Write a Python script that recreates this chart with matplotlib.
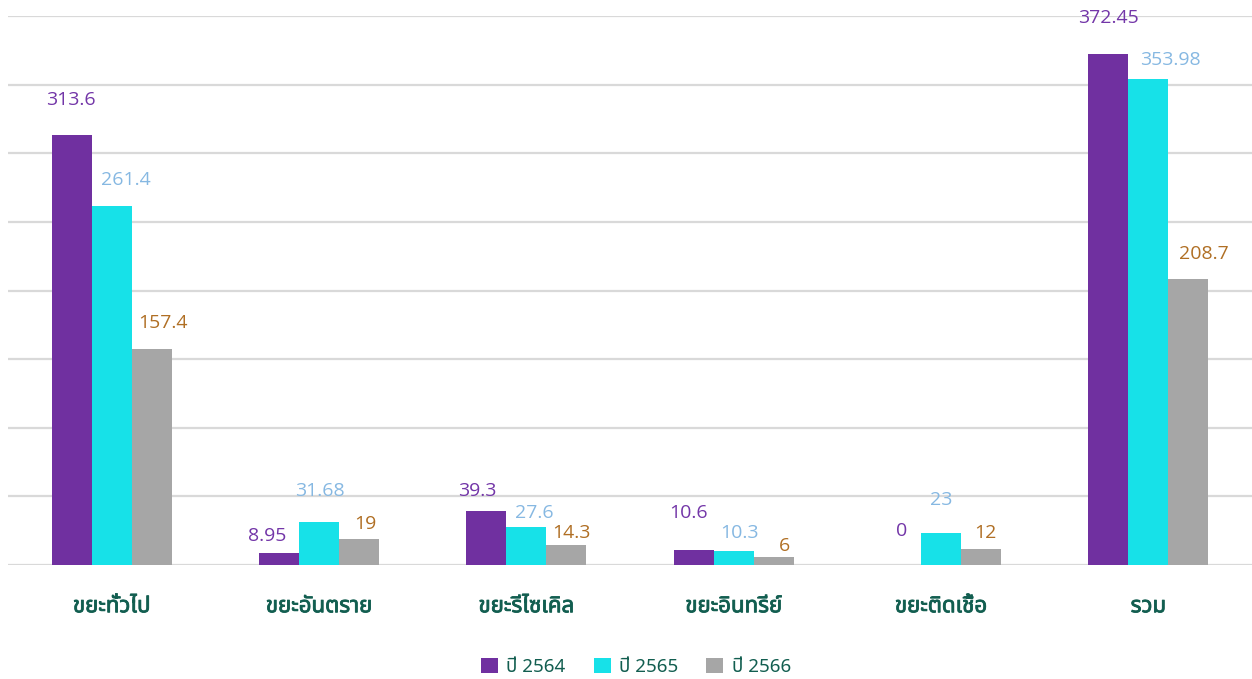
import numpy as np
import matplotlib
matplotlib.use("Agg")
import matplotlib.pyplot as plt
import matplotlib.patheffects as pe
from matplotlib import font_manager, ft2font
from matplotlib.patches import Patch

categories = ["ขยะทั่วไป", "ขยะอันตราย", "ขยะรีไซเคิล", "ขยะอินทรีย์", "ขยะติดเชื้อ", "รวม"]
series_names = ["ปี 2564", "ปี 2565", "ปี 2566"]
y2564 = [313.6, 8.95, 39.3, 10.6, 0, 372.45]
y2565 = [261.4, 31.68, 27.6, 10.3, 23, 353.98]
y2566 = [157.4, 19, 14.3, 6, 12, 208.7]
yticks = np.arange(0, 401, 50)

bar_colors = ["#7030A0", "#17E1E8", "#A6A6A6"]
label_colors = ["#7336a8", "#86b8e2", "#b06f24"]
text_green = "#125e50"

# label offsets (pixels) relative to bar top centre, per series / per group
label_dx = [[-1, -12, -9, -5, 1, 0],
            [14, 1, 8, 6, 0, 22],
            [11, 6, 5, 11, 4, 16]]
label_dy = [[35, 17, 20, 37, 34, 36],
            [26, 31, 14, 18, 33, 19],
            [26, 15, 12, 11, 16, 25]]


def find_font(ch, prefer=()):
    for name in prefer:
        try:
            path = font_manager.findfont(name, fallback_to_default=False)
            if ord(ch) in ft2font.FT2Font(path).get_charmap():
                return font_manager.FontProperties(fname=path).get_name()
        except Exception:
            pass
    for f in font_manager.fontManager.ttflist:
        try:
            if ord(ch) in ft2font.FT2Font(f.fname).get_charmap():
                return f.name
        except Exception:
            continue
    return "DejaVu Sans"


thai_font = find_font("ข", prefer=("Noto Sans Thai", "Noto Sans Thai UI", "Loma", "Garuda", "Sarabun"))
num_font = "Open Sans"
plt.rcParams["font.family"] = [thai_font, "DejaVu Sans"]

fig = plt.figure(figsize=(12.52, 6.79), dpi=100)
ax = fig.add_axes([8 / 1252, 1 - 565 / 679, 1244 / 1252, 549 / 679])

x = np.arange(len(categories))
w = 0.193
for i, vals in enumerate([y2564, y2565, y2566]):
    xs = x + (i - 1) * w
    ax.bar(xs, vals, width=w, color=bar_colors[i], zorder=3)
    for j, v in enumerate(vals):
        ax.annotate(f"{v:g}", (xs[j], v), xytext=(label_dx[i][j], label_dy[i][j]),
                    textcoords="offset pixels", ha="center", va="center",
                    color=label_colors[i], fontsize=14,
                    family=[num_font, "DejaVu Sans"], zorder=4)

ax.set_xlim(-0.5, len(categories) - 0.5)
ax.set_ylim(0, 400)
ax.set_yticks(yticks)
ax.yaxis.grid(True, color="#d9d9d9", linewidth=1.6, zorder=0)
ax.tick_params(axis="y", left=False, labelleft=False)
ax.tick_params(axis="x", bottom=False, pad=19)
ax.set_xticks(x)
ax.set_xticklabels(categories, fontsize=16, fontweight="bold", color=text_green,
                   family=[thai_font, "DejaVu Sans"])
for t in ax.get_xticklabels():
    t.set_path_effects([pe.Stroke(linewidth=0.6, foreground=text_green), pe.Normal()])
for s in ax.spines.values():
    s.set_visible(False)

handles = [Patch(facecolor=c, edgecolor="none") for c in bar_colors]
leg = fig.legend(handles, series_names, loc="center", bbox_to_anchor=(0.508, 1 - 667 / 679),
                 ncol=3, frameon=False, handlelength=0.9, handleheight=0.9,
                 handletextpad=0.45, columnspacing=1.5,
                 prop={"family": [thai_font, "DejaVu Sans"], "size": 13.5})
for t in leg.get_texts():
    t.set_color(text_green)

fig.savefig("out.png", dpi=100, facecolor="white")
